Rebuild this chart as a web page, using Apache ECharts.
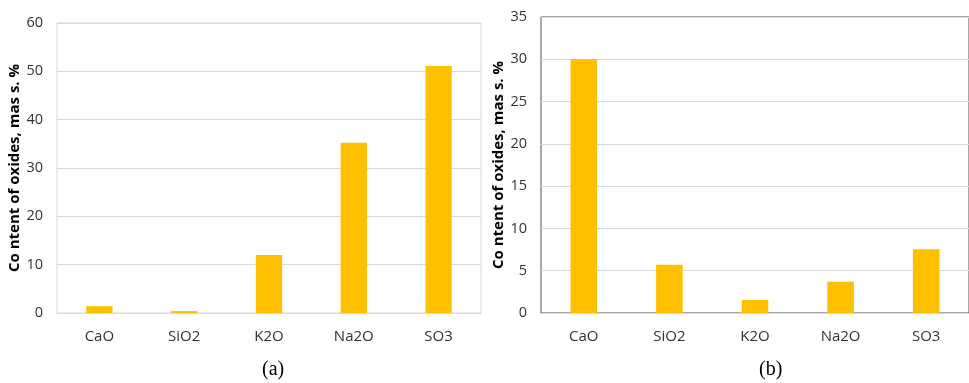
<!DOCTYPE html>
<html>
<head>
<meta charset="utf-8">
<script src="https://cdn.jsdelivr.net/npm/echarts@6/dist/echarts.min.js"></script>
<style>
  html, body { margin: 0; padding: 0; background: #ffffff; }
  #chart { width: 969px; height: 383px; }
</style>
</head>
<body>
<div id="chart"></div>
<script>
// Oxide categories shared by both panels
const oxides = ['CaO', 'SiO2', 'K2O', 'Na2O', 'SO3'];
// Panel (a) oxide contents, mass %
const contentA = [1.4, 0.4, 12.0, 35.2, 51.1];
// Panel (b) oxide contents, mass %
const contentB = [30.0, 5.7, 1.55, 3.7, 7.55];
// Value-axis ranges and steps
const axisA = { min: 0, max: 60, interval: 10 };
const axisB = { min: 0, max: 35, interval: 5 };
const axisTitle = 'Co ntent of oxides, mas s. %';
const captions = ['(a)', '(b)'];

const barColor = '#FFC000';
const labelFont = 'Open Sans';
const gridLine = '#d9d9d9';

function catAxis(gridIndex) {
  return {
    type: 'category', gridIndex, data: oxides,
    axisLine: { show: true, lineStyle: { color: gridLine, width: 1 } },
    axisTick: { show: false },
    axisLabel: { color: '#333333', fontFamily: labelFont, fontSize: 15, margin: 16 }
  };
}
function valAxis(gridIndex, range, nameGap) {
  return {
    type: 'value', gridIndex, min: range.min, max: range.max, interval: range.interval,
    name: axisTitle, nameLocation: 'middle', nameGap: nameGap, nameRotate: 90,
    nameTextStyle: { fontFamily: labelFont, fontWeight: 'bold', fontSize: 15, color: '#000000' },
    axisLine: { show: false }, axisTick: { show: false },
    axisLabel: { color: '#333333', fontFamily: labelFont, fontSize: 14.5, margin: 14 },
    splitLine: { lineStyle: { color: gridLine, width: 1 } }
  };
}

const chart = echarts.init(document.getElementById('chart'), null, { renderer: 'canvas' });
chart.setOption({
  animation: false,
  backgroundColor: '#ffffff',
  grid: [
    { left: 57, top: 23, width: 424, height: 290, show: true, borderColor: gridLine, borderWidth: 1, backgroundColor: 'transparent' },
    { left: 541, top: 17, width: 438, height: 296, show: true, borderColor: '#505050', borderWidth: 1, backgroundColor: 'transparent' }
  ],
  xAxis: [catAxis(0), catAxis(1)],
  yAxis: [valAxis(0, axisA, 33), valAxis(1, axisB, 35)],
  series: [
    { type: 'bar', xAxisIndex: 0, yAxisIndex: 0, data: contentA, barWidth: '31%', itemStyle: { color: barColor } },
    { type: 'bar', xAxisIndex: 1, yAxisIndex: 1, data: contentB, barWidth: '31%', itemStyle: { color: barColor } }
  ],
  graphic: [
    { type: 'text', left: 262, top: 360, style: { text: captions[0], font: '20px "Liberation Serif"', fill: '#000000' } },
    { type: 'text', left: 759, top: 360, style: { text: captions[1], font: '20px "Liberation Serif"', fill: '#000000' } }
  ]
});
</script>
</body>
</html>
